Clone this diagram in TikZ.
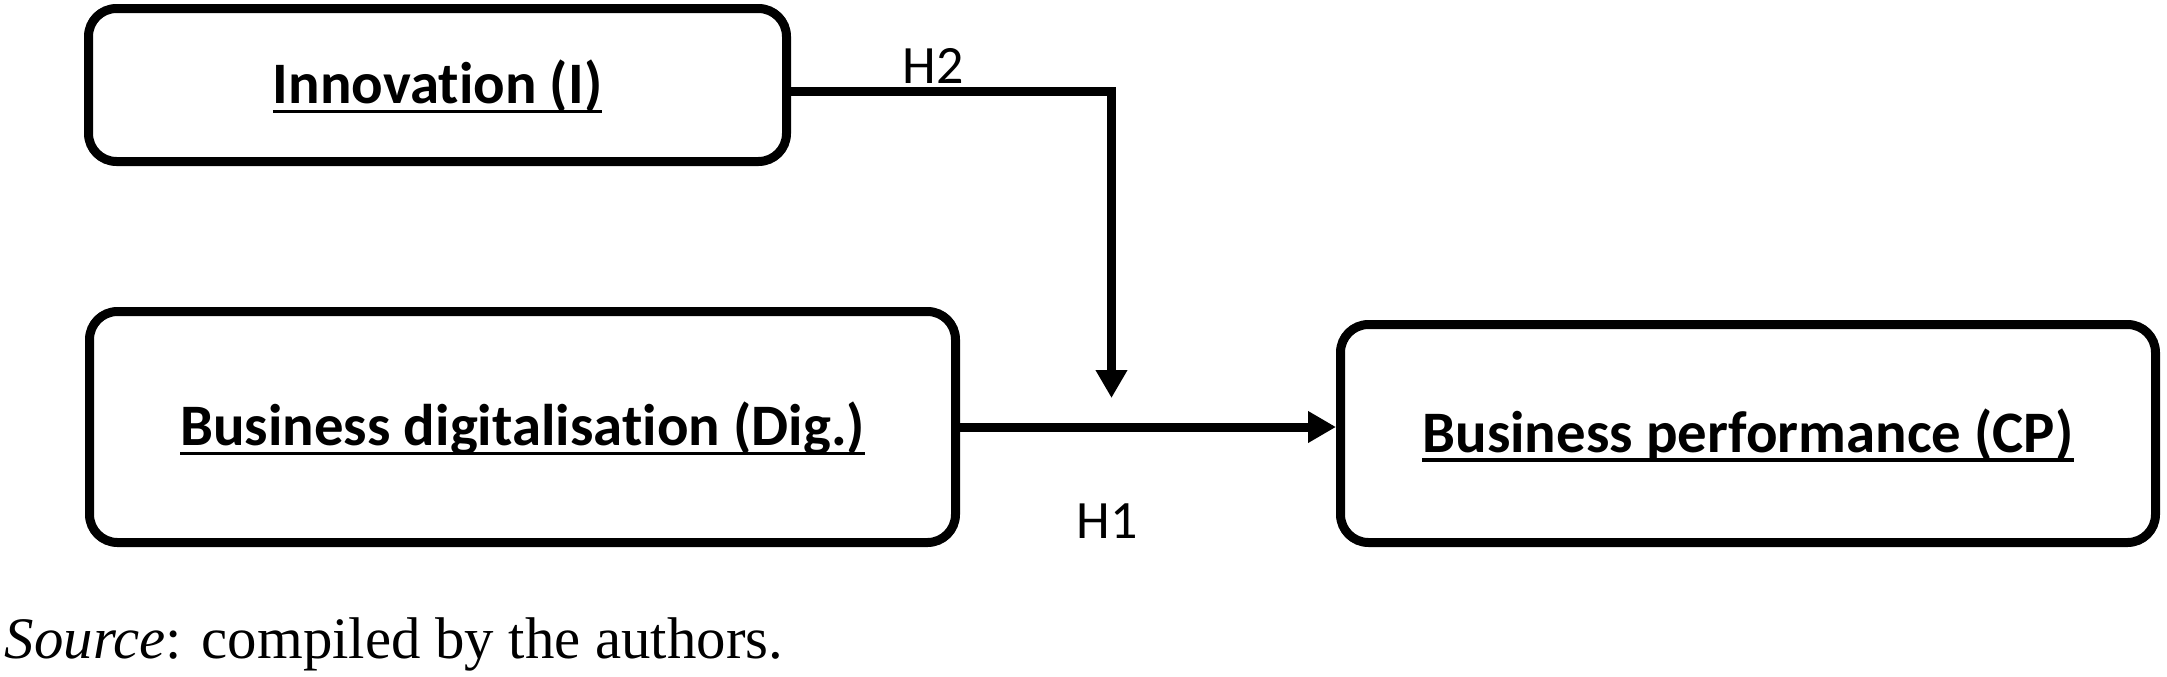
\documentclass[tikz,border=0pt]{standalone}
\usepackage{fontspec}
\setmainfont{Liberation Serif}
\newfontfamily\boxfont[Ligatures=NoCommon]{Carlito}
\usetikzlibrary{arrows.meta}
\newcommand{\ulabel}[1]{\setbox0\hbox{#1}\rlap{\rule[-2.4pt]{\wd0}{0.8pt}}\box0}

\begin{document}
\begin{tikzpicture}[x=0.25pt,y=-0.25pt,
    varbox/.style={draw,line width=2.25pt,rounded corners=7pt,inner sep=0pt,
      font=\boxfont\fontsize{14.7}{17}\selectfont\bfseries,text height=9.25pt,text depth=0pt},
    hyp/.style={font=\boxfont\fontsize{13.5}{16}\selectfont,inner sep=0pt,anchor=base},
    link/.style={line width=2.25pt},
    arrowlink/.style={link,-{Triangle[length=7pt,width=7.5pt]}}]
    \fill[white] (0,0) rectangle (2167,676);\useasboundingbox (0,0) rectangle (2167,676);
    % variables
    \node[varbox,minimum width=174.5pt,minimum height=38.25pt] (inno) at (437.5,85) {\ulabel{Innovation (I)}};
    \node[varbox,minimum width=216.5pt,minimum height=57.75pt] (dig) at (522.5,427) {\ulabel{Business digitalisation (Dig.)}};
    \node[varbox,minimum width=203.75pt,minimum height=54.5pt] (cp) at (1748,433.5) {\ulabel{Business performance (CP)}};
    % hypotheses
    \coordinate (h2corner) at (1111.5,91);\coordinate (h2end) at (1111.5,398);
    \draw[arrowlink] (inno.east |- h2corner) -- (h2corner) -- (h2end);
    \draw[arrowlink] (dig.east) -- (dig.east -| cp.west);
    \node[hyp] (h2) at (933,83) {H2};
    \node[hyp] (h1) at (1107.5,538) {H1};
    \node[anchor=base west,inner sep=0pt,font=\fontsize{14.7}{17}\selectfont] (src) at (4,658) {\textit{Source}: compiled by the authors.};
  \end{tikzpicture}
\end{document}
